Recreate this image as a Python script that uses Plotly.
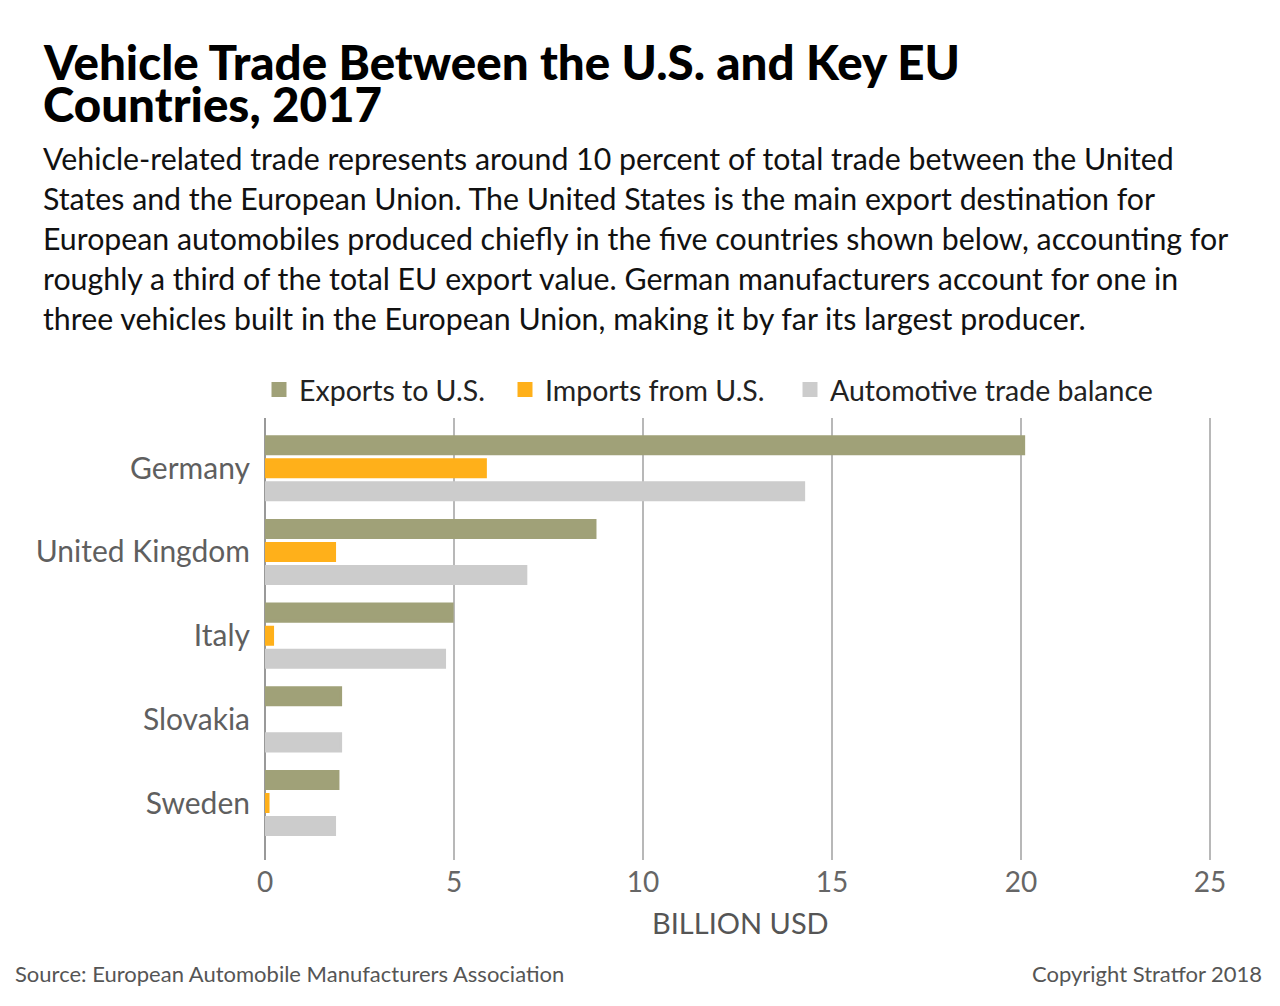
import plotly.graph_objects as go

countries = ["Germany", "United Kingdom", "Italy", "Slovakia", "Sweden"]
exports_to_us = [20.07, 8.73, 4.95, 2.0, 1.93]
imports_from_us = [5.83, 1.84, 0.2, 0.0, 0.08]
trade_balance = [14.25, 6.9, 4.75, 2.0, 1.84]
x_ticks = [0, 5, 10, 15, 20, 25]

series_names = ["Exports to U.S.", "Imports from U.S.", "Automotive trade balance"]
colors = ["#a0a178", "#ffb01a", "#cccccc"]

title_lines = ["Vehicle Trade Between the U.S. and Key EU", "Countries, 2017"]
subtitle_lines = [
    "Vehicle-related trade represents around 10 percent of total trade between the United",
    "States and the European Union. The United States is the main export destination for",
    "European automobiles produced chiefly in the five countries shown below, accounting for",
    "roughly a third of the total EU export value. German manufacturers account for one in",
    "three vehicles built in the European Union, making it by far its largest producer.",
]

W, H = 1280, 1006
L, R, T, B = 265, 1215, 418, 860
X_MAX = 25 + (R - 1210) / ((1210 - 265) / 25)
FONT = "Lato"

def px_x(p):
    return (p - L) / (R - L)

def px_y(p):
    return (B - p) / (B - T)

legend_ids = ["legend", "legend2", "legend3"]
legend_left = [259, 505, 790]

fig = go.Figure()
for name, vals, col, lid in zip(series_names, [exports_to_us, imports_from_us, trade_balance], colors, legend_ids):
    fig.add_trace(go.Bar(
        y=countries, x=vals, name=name, orientation="h", legend=lid,
        marker=dict(color=col, line=dict(width=[3 if v > 0 else 0 for v in vals], color=col)),
    ))

ann = []
for i, line in enumerate(title_lines):
    ann.append(dict(text=line, x=px_x(41), y=px_y([61, 103][i]), xref="paper", yref="paper",
                    xanchor="left", yanchor="middle", showarrow=False,
                    font=dict(family=FONT, size=47.5, color="#000000", weight=900)))
for i, line in enumerate(subtitle_lines):
    ann.append(dict(text=line, x=px_x(41), y=px_y(158 + 40 * i), xref="paper", yref="paper",
                    xanchor="left", yanchor="middle", showarrow=False,
                    font=dict(family=FONT, size=30.3, color="#111111")))
ann.append(dict(text="BILLION USD", x=px_x(740), y=px_y(922), xref="paper", yref="paper",
                xanchor="center", yanchor="middle", showarrow=False,
                font=dict(family=FONT, size=29, color="#555555")))
ann.append(dict(text="Source: European Automobile Manufacturers Association", x=px_x(13), y=px_y(973),
                xref="paper", yref="paper", xanchor="left", yanchor="middle", showarrow=False,
                font=dict(family=FONT, size=22, color="#555555")))
ann.append(dict(text="Copyright Stratfor 2018", x=px_x(1264), y=px_y(973),
                xref="paper", yref="paper", xanchor="right", yanchor="middle", showarrow=False,
                font=dict(family=FONT, size=22, color="#555555")))

legend_style = {}
for lid, lx in zip(legend_ids, legend_left):
    legend_style[lid] = dict(orientation="h", x=px_x(lx), y=px_y(390), xanchor="left", yanchor="middle",
                             font=dict(family=FONT, size=28.5, color="#222222"),
                             bgcolor="rgba(0,0,0,0)", itemwidth=30)

fig.update_layout(
    width=W, height=H,
    margin=dict(l=L, r=W - R, t=T, b=H - B, pad=0),
    paper_bgcolor="white", plot_bgcolor="white",
    barmode="group", bargap=0.175, bargroupgap=0.26,
    showlegend=True,
    annotations=ann,
    xaxis=dict(range=[0, X_MAX], tickvals=x_ticks, ticktext=[str(v) for v in x_ticks],
               showgrid=True, gridcolor="#b8b8b8", gridwidth=1.5,
               zeroline=True, zerolinecolor="#999999", zerolinewidth=2,
               tickfont=dict(family=FONT, size=28, color="#666666"),
               ticks="", ticklabelstandoff=3, fixedrange=True),
    yaxis=dict(categoryorder="array", categoryarray=countries, range=[4.68, -0.6],
               tickfont=dict(family=FONT, size=30, color="#5f5f5f"),
               ticks="", ticklabelstandoff=14, showgrid=False, fixedrange=True),
    font=dict(family=FONT),
    **legend_style,
)

fig.write_html("out.html")
